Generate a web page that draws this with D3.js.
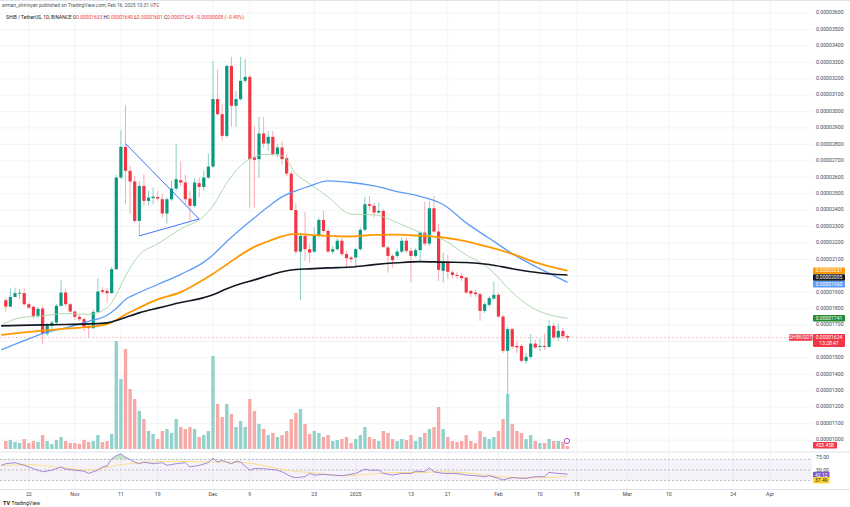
<!DOCTYPE html>
<html>
<head>
<meta charset="utf-8">
<script src="https://cdn.jsdelivr.net/npm/d3@7/dist/d3.min.js"></script>
<style>
  body { margin: 0; background: #fff; }
  svg { display: block; font-family: Roboto, "Liberation Sans", sans-serif; }
</style>
</head>
<body>
<div id="chart"></div>
<script>
// Prices are in units of 1e-8 USDT (0.00001624 -> 1624)
var firstDay = "2024-10-17";

var opens = [
  1851,1812,1871,1894,1894,1827,1811,1756,1800,1648,
  1695,1715,1817,1898,1827,1782,1750,1736,1695,1681,
  1780,1912,1908,1894,2040,2598,2785,2639,2574,2334,
  2547,2456,2473,2480,2466,2379,2466,2531,2582,2568,
  2470,2426,2564,2541,2598,2665,3076,2984,2852,3278,
  3035,3076,3187,3211,2720,2710,2866,2805,2846,2741,
  2781,2716,2622,2400,2147,2243,2162,2147,2243,2340,
  2273,2147,2162,2213,2132,2111,2111,2162,2280,2436,
  2426,2385,2395,2172,2121,2121,2147,2213,2152,2121,
  2156,2263,2196,2411,2269,2030,2085,2021,2005,1999,
  1989,1908,1898,1888,1786,1823,1861,1884,1752,1543,
  1675,1573,1573,1482,1506,1587,1567,1573,1567,1695,
  1624,1664,1633
];
var highs = [
  1865,1924,1928,1920,1922,1835,1817,1811,1817,1713,
  1725,1829,1975,1920,1835,1792,1762,1744,1713,1792,
  1985,1932,1926,2054,2614,2887,3039,2669,2608,2574,
  2619,2517,2537,2517,2497,2476,2578,2805,2700,2614,
  2517,2596,2598,2639,2744,3307,3254,3047,3284,3333,
  3126,3333,3321,3223,2913,2968,2968,2882,2882,2803,
  2822,2742,2639,2442,2261,2391,2194,2294,2354,2395,
  2286,2182,2233,2233,2152,2121,2172,2294,2480,2487,
  2446,2446,2406,2182,2132,2164,2233,2233,2172,2170,
  2273,2452,2456,2487,2316,2139,2127,2036,2024,2018,
  1993,1914,1914,1896,1841,1878,1965,1896,1762,1689,
  1685,1604,1585,1530,1646,1610,1616,1646,1730,1713,
  1709,1683,1640
];
var lows = [
  1780,1811,1868,1859,1817,1798,1738,1738,1583,1634,
  1677,1701,1811,1811,1768,1731,1725,1664,1622,1677,
  1774,1890,1837,1890,2036,2590,2436,2376,2322,2243,
  2426,2426,2436,2456,2354,2318,2456,2517,2547,2436,
  2334,2415,2476,2517,2590,2657,2974,2822,2840,2907,
  2907,3065,3175,2415,2415,2598,2779,2761,2730,2724,
  2675,2608,2395,2132,1851,2091,2080,2139,2233,2261,
  2139,2133,2152,2121,2050,2079,2050,2152,2273,2395,
  2354,2377,2172,2019,2050,2109,2139,2139,1959,2111,
  2091,2182,2182,2261,1969,1957,1981,1987,1981,1969,
  1890,1871,1871,1725,1774,1811,1853,1744,1530,1269,
  1555,1530,1470,1463,1494,1555,1543,1549,1561,1616,
  1604,1616,1601
];
var closes = [
  1812,1871,1894,1896,1827,1806,1756,1798,1648,1699,
  1715,1817,1898,1827,1782,1750,1736,1689,1681,1780,
  1904,1902,1894,2040,2598,2785,2639,2574,2334,2547,
  2456,2476,2482,2470,2379,2466,2531,2588,2568,2466,
  2426,2568,2541,2598,2665,3076,2984,2852,3278,3035,
  3076,3187,3211,2710,2706,2866,2805,2846,2741,2781,
  2710,2622,2400,2147,2243,2162,2141,2243,2340,2273,
  2147,2162,2213,2132,2107,2101,2162,2280,2436,2426,
  2385,2395,2176,2121,2095,2147,2213,2152,2121,2156,
  2263,2196,2411,2269,2036,2085,2024,2005,1999,1985,
  1898,1892,1888,1786,1827,1864,1884,1752,1543,1675,
  1569,1564,1482,1506,1587,1563,1573,1567,1695,1624,
  1664,1632,1624
];
// volume in billions of SHIB
var volumes = [
  1210,1360,1060,910,1510,910,1210,1060,2110,1210,
  760,1360,1810,1210,910,910,760,1360,1060,1210,
  2110,1060,1210,2270,16300,10570,15100,9060,7550,5740,
  4530,2720,2270,1510,2720,3020,2420,4530,3320,3020,
  3320,3020,1810,2110,2720,14040,6800,4830,6800,5290,
  3320,4230,3320,7550,5740,3780,3020,2110,2420,1810,
  2110,2720,4530,5440,6040,3780,2270,2720,2420,1810,
  2110,1210,1360,1510,1810,910,1510,2110,3320,1810,
  1510,1210,2720,2420,1510,1210,1510,1360,2110,1210,
  1810,2420,3020,3320,6340,3020,1810,1210,1060,1210,
  2110,1210,910,2720,1810,1510,1810,2720,4530,8310,
  3780,2720,2420,1510,2110,1210,910,910,1510,1210,
  1210,1060,453.45
];

// moving averages: [day index, price]
var ma20 = [[-1,1697],[3,1744],[8,1756],[13,1770],[18,1765],[22,1805],[24,1884],[26,1999],[29,2127],[33,2194],[38,2286],[43,2362],[45,2426],[48,2566],[51,2669],[54,2726],[57,2740],[60,2731],[63,2621],[66,2560],[70,2480],[75,2375],[80,2371],[85,2324],[90,2263],[95,2219],[100,2127],[105,2044],[110,1898],[115,1795],[119,1756],[122,1741]];
var ma50 = [[-1,1549],[3,1594],[8,1648],[13,1683],[18,1722],[22,1760],[24,1801],[26,1856],[29,1898],[33,1947],[38,2009],[43,2083],[45,2127],[48,2209],[51,2283],[54,2353],[57,2420],[60,2480],[63,2517],[66,2546],[70,2578],[75,2568],[80,2547],[85,2513],[90,2484],[95,2434],[100,2322],[105,2228],[110,2135],[115,2057],[119,2001],[122,1960]];
var ma100 = [[-1,1640],[3,1652],[8,1666],[13,1678],[18,1689],[22,1706],[24,1731],[26,1764],[29,1806],[33,1856],[38,1900],[43,1977],[45,2012],[48,2069],[51,2127],[54,2176],[57,2210],[60,2240],[63,2255],[66,2249],[70,2243],[75,2239],[80,2249],[85,2250],[90,2243],[95,2233],[100,2210],[105,2174],[110,2133],[115,2082],[119,2051],[122,2031]];
var ma200 = [[-1,1695],[3,1698],[8,1701],[13,1703],[18,1707],[22,1713],[24,1727],[26,1746],[29,1774],[33,1803],[38,1837],[43,1867],[45,1884],[48,1921],[51,1951],[54,1975],[57,2001],[60,2024],[63,2038],[66,2042],[70,2048],[75,2053],[80,2068],[85,2079],[90,2086],[95,2083],[100,2081],[105,2069],[110,2043],[115,2021],[119,2009],[122,2005]];

// RSI(14) and its moving average: [day index, value]
var rsi = [[-1,58.8],[0,61.8],[2,63.8],[4,58.8],[6,52.7],[8,46.6],[10,49.7],[12,55.8],[13,51.6],[15,49.7],[17,47.8],[18,43.6],[20,49.7],[21,55.8],[22,57.7],[23,71.1],[24,77.2],[25,80.3],[26,74.2],[28,64.9],[29,61.8],[30,64.9],[32,61.8],[34,63.8],[35,58.8],[37,61.8],[39,63.8],[40,55.8],[42,58.8],[44,63.8],[45,72.2],[46,64.9],[47,68.0],[49,61.8],[50,66.2],[51,64.9],[53,49.7],[54,52.7],[55,52.7],[57,51.6],[59,49.7],[60,46.6],[62,37.4],[63,35.6],[65,37.4],[66,43.6],[67,40.4],[69,41.7],[71,40.4],[73,39.3],[74,40.4],[76,43.6],[78,51.6],[79,49.7],[81,49.7],[82,43.6],[84,40.4],[86,43.6],[88,43.6],[89,47.8],[91,46.6],[92,54.0],[93,46.6],[95,43.6],[97,43.6],[99,42.3],[100,40.4],[102,39.3],[104,37.4],[105,39.3],[107,34.3],[108,31.3],[110,35.6],[112,34.3],[113,34.3],[115,37.4],[117,37.4],[118,45.4],[120,43.6],[122,42.12]];
var rsiMa = [[-1,57.6],[5,60.1],[11,55.8],[18,49.7],[24,58.8],[29,63.7],[34,66.2],[39,66.2],[44,65.0],[49,65.0],[52,63.7],[55,60.1],[59,52.7],[64,46.6],[68,43.5],[73,39.2],[77,40.4],[81,43.5],[86,45.3],[90,45.3],[94,46.6],[99,45.3],[103,41.7],[107,37.4],[111,35.6],[115,35.6],[122,37.49]];

// hand-drawn trend lines: [day index, price]
var trendUpper = [[26,2805],[42,2346]];
var trendLower = [[29,2243],[42,2346]];

var tickDates = ["2024-10-22","2024-11-01","2024-11-11","2024-11-19","2024-12-01","2024-12-09","2024-12-23","2025-01-01","2025-01-13","2025-01-21","2025-02-01","2025-02-10","2025-02-18","2025-03-01","2025-03-10","2025-03-24","2025-04-01"];
var tickLabels = ["22","Nov","11","19","Dec","9","23","2025","13","21","Feb","10","18","Mar","10","24","Apr"];

var priceTicks = d3.range(1000, 3601, 100);

var W = 850, H = 507;
var paneRight = 812;
var green = "#089981", red = "#f23645";

var parse = d3.utcParse("%Y-%m-%d");
var day0 = parse(firstDay);
function dayDate(i) { return new Date(day0.getTime() + i * 864e5); }

var x = d3.scaleUtc().domain([parse("2024-10-22"), parse("2025-04-01")]).range([28.8, 770.1]);
var y = d3.scaleLinear().domain([1000, 3600]).range([440, 13]);
var yVol = d3.scaleLinear().domain([0, 16300]).range([449, 341]);
var yRsi = d3.scaleLinear().domain([30, 70]).range([480.6, 459.4]);

function fmt(v) { return (v * 1e-8).toFixed(8); }

var candles = closes.map(function (c, i) {
  return { date: dayDate(i), o: opens[i], h: highs[i], l: lows[i], c: c, v: volumes[i] };
});

var svg = d3.select("#chart").append("svg").attr("width", W).attr("height", H);

svg.append("clipPath").attr("id", "mainClip")
  .append("rect").attr("x", 0).attr("y", 0).attr("width", paneRight).attr("height", 451);
svg.append("clipPath").attr("id", "rsiClip")
  .append("rect").attr("x", 0).attr("y", 453).attr("width", paneRight).attr("height", 36);

// ── Grid ─────────────────────────────────────────
var grid = svg.append("g");
grid.selectAll(".hg").data(priceTicks).join("line")
  .attr("x1", 0).attr("x2", paneRight)
  .attr("y1", function (d) { return y(d); }).attr("y2", function (d) { return y(d); })
  .attr("stroke", "#f0f1f4").attr("stroke-width", 0.8);
grid.selectAll(".vg").data(tickDates).join("line")
  .attr("x1", function (d) { return x(parse(d)); }).attr("x2", function (d) { return x(parse(d)); })
  .attr("y1", 0).attr("y2", 489)
  .attr("stroke", "#f0f1f4").attr("stroke-width", 0.8);

// pane separators
svg.append("line").attr("x1", 0).attr("x2", W).attr("y1", 452).attr("y2", 452).attr("stroke", "#e0e3eb").attr("stroke-width", 1);
svg.append("line").attr("x1", 0).attr("x2", W).attr("y1", 489.5).attr("y2", 489.5).attr("stroke", "#e0e3eb").attr("stroke-width", 1);
svg.append("line").attr("x1", 0).attr("x2", W).attr("y1", 0.5).attr("y2", 0.5).attr("stroke", "#e0e3eb").attr("stroke-width", 1);

var main = svg.append("g").attr("clip-path", "url(#mainClip)");

// ── Volume ───────────────────────────────────────
main.selectAll(".vol").data(candles).join("rect")
  .attr("x", function (d) { return x(d.date) - 1.7; })
  .attr("width", 3.4)
  .attr("y", function (d) { return yVol(d.v); })
  .attr("height", function (d) { return yVol(0) - yVol(d.v); })
  .attr("fill", function (d) { return d.c >= d.o ? "#92d2cc" : "#f7a9a7"; });

// current price line
main.append("line")
  .attr("x1", 0).attr("x2", paneRight)
  .attr("y1", y(closes[closes.length - 1])).attr("y2", y(closes[closes.length - 1]))
  .attr("stroke", red).attr("stroke-opacity", 0.45).attr("stroke-width", 0.7)
  .attr("stroke-dasharray", "2,2");

// ── Candles ──────────────────────────────────────
main.selectAll(".wick").data(candles).join("line")
  .attr("x1", function (d) { return x(d.date); }).attr("x2", function (d) { return x(d.date); })
  .attr("y1", function (d) { return y(d.h); }).attr("y2", function (d) { return y(d.l); })
  .attr("stroke", function (d) { return d.c >= d.o ? "#7cc9bd" : "#f7a1a8"; })
  .attr("stroke-width", 0.9);

main.selectAll(".body").data(candles).join("rect")
  .attr("x", function (d) { return x(d.date) - 1.6; })
  .attr("width", 3.2)
  .attr("y", function (d) { return y(Math.max(d.o, d.c)); })
  .attr("height", function (d) { return Math.max(0.8, Math.abs(y(d.o) - y(d.c))); })
  .attr("fill", function (d) { return d.c >= d.o ? green : red; });

// ── Moving averages ──────────────────────────────
var maLine = d3.line()
  .x(function (d) { return x(dayDate(d[0])); })
  .y(function (d) { return y(d[1]); })
  .curve(d3.curveMonotoneX);

[[ma20, "#a5d6a7", 0.9], [ma50, "#5b9cf6", 1.3], [ma100, "#ff9800", 1.8], [ma200, "#131722", 1.6]]
  .forEach(function (m) {
    main.append("path").datum(m[0]).attr("d", maLine)
      .attr("fill", "none").attr("stroke", m[1]).attr("stroke-width", m[2]);
  });

// trend lines
var straight = d3.line().x(function (d) { return x(dayDate(d[0])); }).y(function (d) { return y(d[1]); });
[trendUpper, trendLower].forEach(function (t) {
  main.append("path").datum(t).attr("d", straight)
    .attr("fill", "none").attr("stroke", "#2962ff").attr("stroke-width", 0.9);
});

// event marker
svg.append("circle").attr("cx", 567).attr("cy", 441).attr("r", 2.6)
  .attr("fill", "#fff").attr("stroke", "#9c27b0").attr("stroke-width", 0.8);

// ── RSI pane ─────────────────────────────────────
var rp = svg.append("g").attr("clip-path", "url(#rsiClip)");
rp.append("rect").attr("x", 0).attr("width", paneRight)
  .attr("y", yRsi(70)).attr("height", yRsi(30) - yRsi(70))
  .attr("fill", "#7e57c2").attr("fill-opacity", 0.08);
[70, 50, 30].forEach(function (v) {
  rp.append("line").attr("x1", 0).attr("x2", paneRight)
    .attr("y1", yRsi(v)).attr("y2", yRsi(v))
    .attr("stroke", "#9598a1").attr("stroke-width", 0.6).attr("stroke-dasharray", "2,2");
});

svg.append("clipPath").attr("id", "obClip")
  .append("rect").attr("x", 0).attr("y", 440).attr("width", paneRight).attr("height", yRsi(70) - 440);
var rsiArea = d3.area()
  .x(function (d) { return x(dayDate(d[0])); })
  .y0(yRsi(70))
  .y1(function (d) { return yRsi(d[1]); });
rp.append("g").attr("clip-path", "url(#obClip)")
  .append("path").datum(rsi).attr("d", rsiArea)
  .attr("fill", "#4caf50").attr("fill-opacity", 0.3);

var rsiMaLine = d3.line()
  .x(function (d) { return x(dayDate(d[0])); })
  .y(function (d) { return yRsi(d[1]); })
  .curve(d3.curveMonotoneX);
rp.append("path").datum(rsiMa).attr("d", rsiMaLine)
  .attr("fill", "none").attr("stroke", "#fbe08a").attr("stroke-width", 1);
var rsiLine = d3.line()
  .x(function (d) { return x(dayDate(d[0])); })
  .y(function (d) { return yRsi(d[1]); });
rp.append("path").datum(rsi).attr("d", rsiLine)
  .attr("fill", "none").attr("stroke", "#9575cd").attr("stroke-width", 0.85);

// ── Price scale ──────────────────────────────────
var last = candles.length - 1;
var boxes = [
  { v: ma100[ma100.length - 1][1], fill: "#ff9800", fg: "#fff" },
  { v: ma200[ma200.length - 1][1], fill: "#131722", fg: "#fff" },
  { v: ma50[ma50.length - 1][1], fill: "#5b9cf6", fg: "#fff" },
  { v: ma20[ma20.length - 1][1], fill: "#1f8a2e", fg: "#fff" }
];
boxes.forEach(function (b) { b.y = y(b.v); });
boxes.sort(function (a, b) { return a.y - b.y; });
for (var k = 1; k < boxes.length; k++) {
  if (boxes[k].y - boxes[k - 1].y < 6.8) boxes[k].y = boxes[k - 1].y + 6.8;
}
var lastY = y(closes[last]);
var blocked = boxes.map(function (b) { return b.y; }).concat([lastY, lastY + 5]);

var axisG = svg.append("g").attr("font-size", 5.2).attr("fill", "#434651");
axisG.selectAll("text").data(priceTicks.filter(function (v) {
    return blocked.every(function (b) { return Math.abs(y(v) - b) > 4.5; });
  })).join("text")
  .attr("x", 816).attr("y", function (d) { return y(d) - 0.5; })
  .attr("dy", "0.35em")
  .text(function (d) { return fmt(d); });

function tag(g, yc, text, fill, fg, x0, w) {
  g.append("rect").attr("x", x0).attr("y", yc - 3.3).attr("width", w).attr("height", 6.6)
    .attr("rx", 0.8).attr("fill", fill);
  g.append("text").attr("x", x0 + w / 2).attr("y", yc).attr("dy", "0.35em")
    .attr("text-anchor", "middle").attr("font-size", 5).attr("fill", fg).text(text);
}
var tags = svg.append("g");
boxes.forEach(function (b) { tag(tags, b.y, fmt(b.v), b.fill, b.fg, 813, 32); });

// last price tag with countdown
tags.append("rect").attr("x", 813).attr("y", lastY - 3.6).attr("width", 32).attr("height", 13)
  .attr("rx", 0.8).attr("fill", red);
tags.append("text").attr("x", 829).attr("y", lastY).attr("dy", "0.35em")
  .attr("text-anchor", "middle").attr("font-size", 5).attr("fill", "#fff").text(fmt(closes[last]));
tags.append("text").attr("x", 829).attr("y", lastY + 6).attr("dy", "0.35em")
  .attr("text-anchor", "middle").attr("font-size", 5).attr("fill", "#fff").text("13:28:47");
tag(tags, lastY, "SHIBUSDT", red, "#fff", 789, 23.5);

// volume tag
tag(tags, 445.3, volumes[last].toFixed(2) + "B", red, "#fff", 813, 24);

// RSI scale
axisG.append("text").attr("x", 816).attr("y", yRsi(75)).attr("dy", "0.35em").text("75.00");
axisG.append("text").attr("x", 816).attr("y", yRsi(50)).attr("dy", "0.35em").text("50.00");
tag(tags, 475, rsi[rsi.length - 1][1].toFixed(2), "#7e57c2", "#fff", 813, 16.5);
tag(tags, 480.3, rsiMa[rsiMa.length - 1][1].toFixed(2), "#fdd835", "#131722", 813, 16.5);

// ── Time axis ────────────────────────────────────
var tAxis = svg.append("g").attr("font-size", 5.2).attr("fill", "#434651");
tAxis.selectAll("text").data(tickDates).join("text")
  .attr("x", function (d) { return x(parse(d)); })
  .attr("y", 494).attr("dy", "0.35em").attr("text-anchor", "middle")
  .text(function (d, i) { return tickLabels[i]; });

// ── Header ───────────────────────────────────────
svg.append("text").attr("x", 2).attr("y", 6.5).attr("font-size", 4.9).attr("fill", "#50535e")
  .text("arman_shirinyan published on TradingView.com, Feb 16, 2025 10:31 UTC");

var hdr = svg.append("text").attr("x", 6).attr("y", 18.5).attr("font-size", 4.9).attr("fill", "#131722");
hdr.append("tspan").text("SHIB / TetherUS, 1D, BINANCE  ");
[["O", opens[last]], ["H", highs[last]], ["L", lows[last]], ["C", closes[last]]].forEach(function (p) {
  hdr.append("tspan").attr("fill", "#131722").text(" " + p[0]);
  hdr.append("tspan").attr("fill", red).text(fmt(p[1]));
});
var chg = closes[last] - closes[last - 1];
hdr.append("tspan").attr("fill", red)
  .text("  \u2212" + fmt(Math.abs(chg)) + " (\u2212" + Math.abs(chg / closes[last - 1] * 100).toFixed(2) + "%)");

// ── Logo ─────────────────────────────────────────
svg.append("text").attr("x", 3).attr("y", 505).attr("font-size", 5.5).attr("font-weight", "bold")
  .attr("fill", "#131722").text("TV");
svg.append("text").attr("x", 11.5).attr("y", 505).attr("font-size", 5.2)
  .attr("fill", "#131722").text("TradingView");
</script>
</body>
</html>
